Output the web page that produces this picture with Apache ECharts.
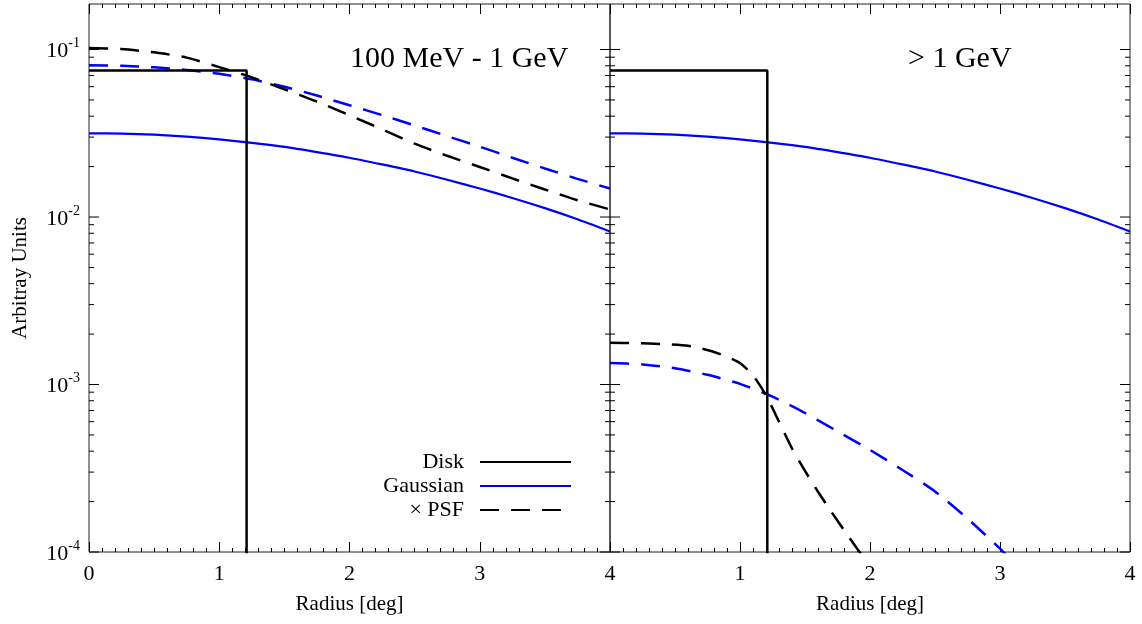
<!doctype html>
<html>
<head>
<meta charset="utf-8">
<script src="https://cdn.jsdelivr.net/npm/echarts@6/dist/echarts.min.js"></script>
<style>
    html, body { margin: 0; padding: 0; background: #fff; }
    #chart { width: 1142px; height: 624px; }
</style>
</head>
<body>
<div id="chart"></div>
<script>
// x ticks of both panels
let xTicks = [0, 1, 2, 3, 4];
// y tick mantissas and decades (log axis)
let yMantissa = [1, 2, 3, 4, 5, 6, 7, 8, 9];
let yDecades = [-4, -3, -2];

// disk profile (same in both panels)
let diskR = [0, 1.21, 1.21];
let diskVal = [0.075, 0.075, 1e-6];

// gaussian profile (same in both panels)
let gaussR = [0, 0.25, 0.5, 0.75, 1, 1.25, 1.5, 1.75, 2, 2.25, 2.5, 2.75, 3, 3.25, 3.5, 3.75, 4];
let gaussVal = [0.0316, 0.0315, 0.0310, 0.0302, 0.0291, 0.0277, 0.0262, 0.0244, 0.0226, 0.0206, 0.0187, 0.0167, 0.0148, 0.0130, 0.0113, 0.0097, 0.0082];

// 100 MeV - 1 GeV, convolved with PSF
let lowR = [0, 0.25, 0.5, 0.75, 1, 1.25, 1.5, 1.75, 2, 2.25, 2.5, 2.75, 3, 3.25, 3.5, 3.75, 4];
let lowDiskPsf = [0.102, 0.1007, 0.0962, 0.0895, 0.0785, 0.0682, 0.0579, 0.0489, 0.0405, 0.0334, 0.0274, 0.0232, 0.0199, 0.0170, 0.0146, 0.0126, 0.0111];
let lowGaussPsf = [0.0805, 0.0800, 0.0783, 0.0755, 0.0716, 0.0664, 0.0600, 0.0531, 0.0465, 0.0406, 0.0352, 0.0304, 0.0263, 0.0226, 0.0195, 0.0169, 0.0148];

// > 1 GeV, convolved with PSF
let highDiskR = [0, 0.2, 0.4, 0.6, 0.7, 0.8, 0.9, 1.0, 1.1, 1.2, 1.3, 1.4, 1.5, 1.6, 1.7, 1.8, 1.9, 2.0];
let highDiskPsf = [1.774e-3, 1.766e-3, 1.746e-3, 1.702e-3, 1.641e-3, 1.563e-3, 1.466e-3, 1.343e-3, 1.135e-3, 8.63e-4, 6.0e-4, 4.15e-4, 3.05e-4, 2.29e-4, 1.75e-4, 1.35e-4, 1.05e-4, 8.3e-5];
let highGaussR = [0, 0.25, 0.5, 0.75, 1, 1.25, 1.5, 1.75, 2, 2.25, 2.5, 2.75, 3, 3.25];
let highGaussPsf = [1.346e-3, 1.318e-3, 1.25e-3, 1.143e-3, 1.009e-3, 8.47e-4, 6.76e-4, 5.25e-4, 4.07e-4, 3.09e-4, 2.3e-4, 1.585e-4, 1.047e-4, 6.76e-5];

let FONT = 'Liberation Serif';
let BLUE = '#0000ff';
let DASH = [19, 12];

function zip(xs, ys){
    return xs.map((x, i) => [x, ys[i]]);
}

let yTickVals = [];
yDecades.forEach(d => {
    yMantissa.forEach(m => yTickVals.push(m * Math.pow(10, d)));
});
yTickVals.push(0.1);

function isDecade(v){
    let e = Math.log10(v);
    return Math.abs(e - Math.round(e)) < 1e-6;
}

function xAxisCfg(grid, pos, labels, hideMin){
    return {
        type: 'value', gridIndex: grid, position: pos,
        min: xTicks[0], max: xTicks[xTicks.length - 1], interval: 1,
        axisLine: {show: false},
        axisTick: {inside: true, length: 10, lineStyle: {color: '#000', width: 1}},
        minorTick: {show: true, splitNumber: 10, length: 4, lineStyle: {color: '#000', width: 1}},
        splitLine: {show: false},
        axisLabel: {
            show: labels, margin: 11, showMinLabel: !hideMin,
            color: '#000', fontFamily: FONT, fontSize: 22
        },
        name: labels ? 'Radius [deg]' : '',
        nameLocation: 'middle', nameGap: 42,
        nameTextStyle: {color: '#000', fontFamily: FONT, fontSize: 21}
    };
}

function yAxisCfg(grid, labels){
    return {
        type: 'log', logBase: 10, gridIndex: grid,
        min: 1e-4, max: 0.187,
        axisLine: {show: false},
        axisTick: {show: false},
        splitLine: {show: false},
        axisLabel: {
            show: labels, margin: 9,
            formatter: v => isDecade(v) ? '{b|10}{s|' + Math.round(Math.log10(v)) + '}' : '',
            rich: {
                b: {fontFamily: FONT, fontSize: 22, color: '#000', lineHeight: 26, verticalAlign: 'bottom'},
                s: {fontFamily: FONT, fontSize: 14, color: '#000', lineHeight: 26, verticalAlign: 'top'}
            }
        },
        name: labels ? 'Arbitray Units' : '',
        nameLocation: 'middle', nameGap: 58, nameRotate: 90,
        nameTextStyle: {color: '#000', fontFamily: FONT, fontSize: 21}
    };
}

// y ticks drawn on both edges of a panel, placed by the log axis
function tickSeries(idx){
    return {
        type: 'custom', xAxisIndex: idx, yAxisIndex: idx, silent: true,
        data: yTickVals.map(v => [0, v]),
        encode: {x: 0, y: 1},
        renderItem: (params, api) => {
            let v = api.value(1);
            let a = api.coord([0, v]);
            let b = api.coord([4, v]);
            let len = isDecade(v) ? 10 : 5;
            let st = {stroke: '#000', lineWidth: 1};
            return {
                type: 'group',
                children: [
                    {type: 'line', shape: {x1: a[0], y1: a[1], x2: a[0] + len, y2: a[1]}, style: st},
                    {type: 'line', shape: {x1: b[0] - len, y1: b[1], x2: b[0], y2: b[1]}, style: st}
                ]
            };
        }
    };
}

function line(name, idx, data, color, dashed, width){
    return {
        name: name, type: 'line', xAxisIndex: idx, yAxisIndex: idx,
        data: data, symbol: 'none', showSymbol: false,
        smooth: name === 'Disk' ? false : 0.2,
        lineStyle: {color: color, width: width, type: dashed ? DASH : 'solid'},
        itemStyle: {color: color},
        animation: false
    };
}

function legendCfg(name, top){
    return {
        data: [name], right: 570, top: top, padding: 0,
        itemWidth: 91, itemHeight: 14, align: 'right',
        selectedMode: false,
        formatter: n => n + '  ',
        itemStyle: {color: 'transparent', borderColor: 'transparent', borderWidth: 0, opacity: 0},
        textStyle: {color: '#000', fontFamily: FONT, fontSize: 22}
    };
}

let chart = echarts.init(document.getElementById('chart'), null, {renderer: 'canvas'});
chart.setOption({
    animation: false,
    backgroundColor: '#fff',
    title: [
        {text: '100 MeV - 1 GeV', left: 350, top: 44, padding: 0,
            textStyle: {color: '#000', fontFamily: FONT, fontSize: 30, fontWeight: 'normal'}},
        {text: '> 1 GeV', left: 908, top: 44, padding: 0,
            textStyle: {color: '#000', fontFamily: FONT, fontSize: 30, fontWeight: 'normal'}}
    ],
    legend: [
        legendCfg('Disk', 451),
        legendCfg('Gaussian', 475),
        legendCfg('× PSF', 499)
    ],
    grid: [
        {left: 89, right: 532, top: 4, bottom: 72, show: true, borderColor: '#222', borderWidth: 1, backgroundColor: 'transparent'},
        {left: 610, right: 12, top: 4, bottom: 72, show: true, borderColor: '#222', borderWidth: 1, backgroundColor: 'transparent'}
    ],
    xAxis: [
        xAxisCfg(0, 'bottom', true, false),
        xAxisCfg(1, 'bottom', true, true),
        xAxisCfg(0, 'top', false, false),
        xAxisCfg(1, 'top', false, false)
    ],
    yAxis: [yAxisCfg(0, true), yAxisCfg(1, false)],
    series: [
        tickSeries(0),
        tickSeries(1),
        line('Gaussian × PSF', 0, zip(lowR, lowGaussPsf), BLUE, true, 2.5),
        line('× PSF', 0, zip(lowR, lowDiskPsf), '#000', true, 2.5),
        line('Gaussian', 0, zip(gaussR, gaussVal), BLUE, false, 2.2),
        line('Disk', 0, zip(diskR, diskVal), '#000', false, 2.5),
        line('Gaussian × PSF', 1, zip(highGaussR, highGaussPsf), BLUE, true, 2.5),
        line('× PSF', 1, zip(highDiskR, highDiskPsf), '#000', true, 2.5),
        line('Gaussian', 1, zip(gaussR, gaussVal), BLUE, false, 2.2),
        line('Disk', 1, zip(diskR, diskVal), '#000', false, 2.5)
    ]
});
</script>
</body>
</html>
